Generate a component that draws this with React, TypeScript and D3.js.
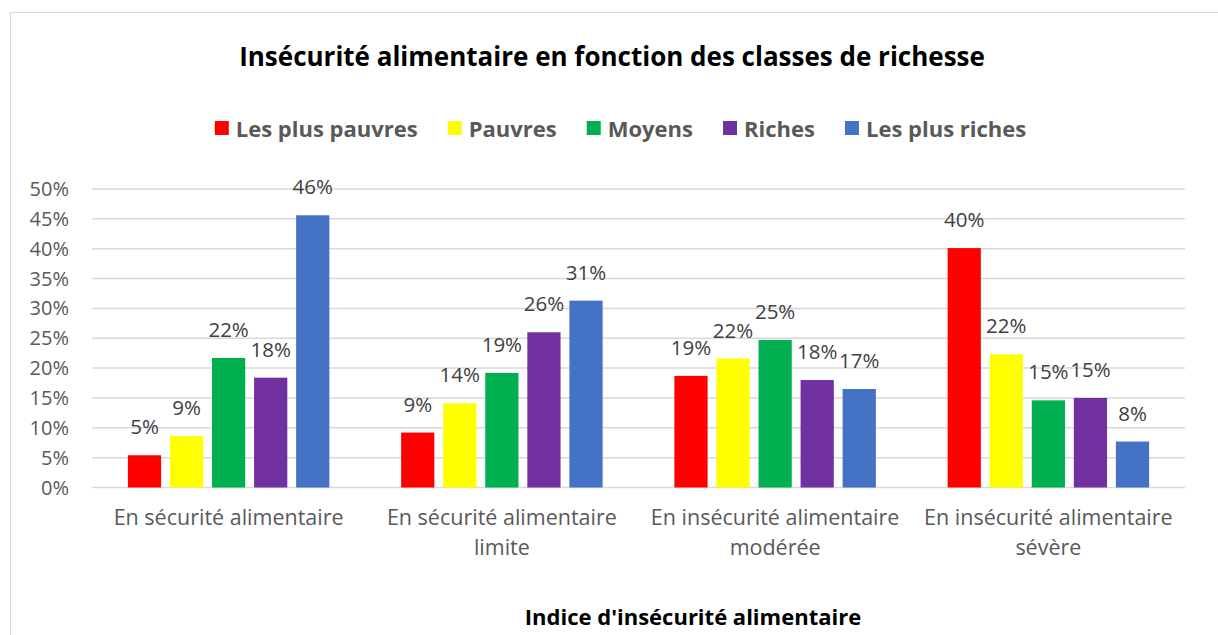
import React, { useEffect, useRef } from "react";
import * as d3 from "d3";

const categories: string[][] = [
  ["En sécurité alimentaire"],
  ["En sécurité alimentaire", "limite"],
  ["En insécurité alimentaire", "modérée"],
  ["En insécurité alimentaire", "sévère"],
];
const seriesNames = ["Les plus pauvres", "Pauvres", "Moyens", "Riches", "Les plus riches"];
const seriesColors = ["#FF0000", "#FFFF00", "#00B050", "#7030A0", "#4472C4"];
const lesPlusPauvres = [0.054, 0.092, 0.187, 0.401];
const pauvres = [0.086, 0.141, 0.216, 0.223];
const moyens = [0.217, 0.192, 0.247, 0.146];
const riches = [0.184, 0.26, 0.18, 0.15];
const lesPlusRiches = [0.456, 0.313, 0.165, 0.077];
const yTicks = [0, 0.05, 0.1, 0.15, 0.2, 0.25, 0.3, 0.35, 0.4, 0.45, 0.5];
const title = "Insécurité alimentaire en fonction des classes de richesse";
const xTitle = "Indice d'insécurité alimentaire";

const W = 1218;
const H = 635;
const FONT = "'Open Sans', sans-serif";

export default function App() {
  const ref = useRef<SVGSVGElement | null>(null);

  useEffect(() => {
    const svg = d3.select(ref.current);
    svg.selectAll("*").remove();

    const values = [lesPlusPauvres, pauvres, moyens, riches, lesPlusRiches];
    const left = 92, right = 1185, top = 189, bottom = 487.5;

    svg.append("rect").attr("x", 10.5).attr("y", 12.5).attr("width", W + 20).attr("height", H + 20)
      .attr("fill", "#fff").attr("stroke", "#d9d9d9").attr("stroke-width", 1);

    const y = d3.scaleLinear().domain([0, 0.5]).range([bottom, top]);
    const x0 = d3.scaleBand<number>().domain(d3.range(categories.length)).range([left, right]).padding(0);
    const bw = x0.bandwidth();
    const outer = bw * 0.1313;
    const x1 = d3.scaleBand<number>().domain(d3.range(seriesNames.length)).range([outer, bw - outer]).paddingInner(0.21);

    // gridlines
    svg.append("g").selectAll("line").data(yTicks).join("line")
      .attr("x1", left).attr("x2", right)
      .attr("y1", (d) => y(d)).attr("y2", (d) => y(d))
      .attr("stroke", "#d9d9d9").attr("stroke-width", 1.5);

    // y labels
    svg.append("g").selectAll("text").data(yTicks).join("text")
      .attr("x", 69).attr("y", (d) => y(d) + 7)
      .attr("text-anchor", "end").attr("font-family", FONT).attr("font-size", 20)
      .attr("fill", "#595959").text((d) => d3.format(".0%")(d));

    // bars
    const groups = svg.append("g").selectAll("g").data(values).join("g")
      .attr("fill", (_, i) => seriesColors[i]);
    groups.each(function (vals, si) {
      const g = d3.select(this);
      g.selectAll("rect").data(vals).join("rect")
        .attr("x", (_, ci) => (x0(ci) as number) + (x1(si) as number))
        .attr("width", x1.bandwidth())
        .attr("y", (d) => y(d))
        .attr("height", (d) => bottom - y(d));
      g.selectAll("text").data(vals).join("text")
        .attr("x", (_, ci) => (x0(ci) as number) + (x1(si) as number) + x1.bandwidth() / 2)
        .attr("y", (d) => y(d) - 21)
        .attr("text-anchor", "middle").attr("font-family", FONT).attr("font-size", 20.5)
        .attr("fill", "#404040").text((d) => d3.format(".0%")(d));
    });

    // category labels
    const cat = svg.append("g").selectAll("text").data(categories).join("text")
      .attr("x", (_, i) => (x0(i) as number) + bw / 2)
      .attr("y", 525)
      .attr("text-anchor", "middle").attr("font-family", FONT).attr("font-size", 21.5)
      .attr("fill", "#595959");
    cat.each(function (lines, i) {
      d3.select(this).selectAll("tspan").data(lines).join("tspan")
        .attr("x", (x0(i) as number) + bw / 2)
        .attr("dy", (_, j) => (j === 0 ? 0 : 30))
        .text((d) => d);
    });

    // title
    svg.append("text").attr("x", 612).attr("y", 66).attr("text-anchor", "middle")
      .attr("font-family", FONT).attr("font-weight", "bold").attr("font-size", 26)
      .attr("fill", "#000").text(title);

    // axis title
    svg.append("text").attr("x", 693).attr("y", 625).attr("text-anchor", "middle")
      .attr("font-family", FONT).attr("font-weight", "bold").attr("font-size", 22)
      .attr("fill", "#000").text(xTitle);

    // legend
    const leg = svg.append("g");
    const items = leg.selectAll("g").data(seriesNames).join("g");
    items.append("rect").attr("width", 14).attr("height", 14).attr("y", 121)
      .attr("fill", (_, i) => seriesColors[i]);
    items.append("text").attr("x", 21).attr("y", 136.5)
      .attr("font-family", FONT).attr("font-weight", "bold").attr("font-size", 22)
      .attr("fill", "#595959").text((d) => d);
    const widths: number[] = [];
    items.each(function () {
      const t = d3.select(this).select("text").node() as SVGTextElement;
      widths.push(21 + t.getComputedTextLength());
    });
    const gap = 30;
    const total = d3.sum(widths) + gap * (widths.length - 1);
    let cx = 620.5 - total / 2;
    items.each(function (_, i) {
      d3.select(this).attr("transform", `translate(${cx},0)`);
      cx += widths[i] + gap;
    });
  }, []);

  return (
    <svg ref={ref} width={W} height={H} style={{ position: "absolute", left: 0, top: 0, display: "block" }} />
  );
}
